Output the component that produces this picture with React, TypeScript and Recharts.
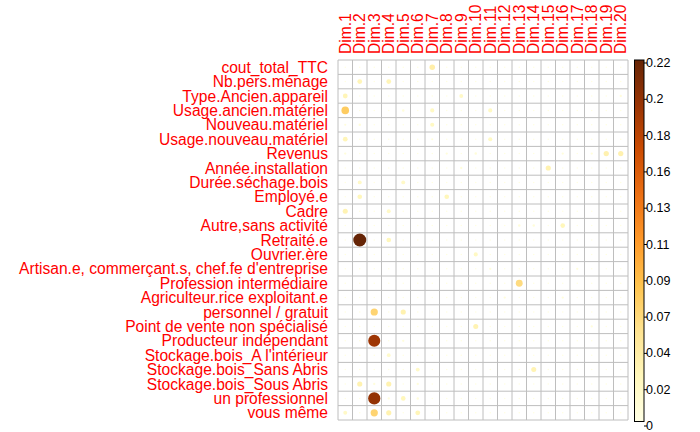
import { ReferenceLine, Scatter, ScatterChart, XAxis, YAxis } from "recharts";

const FONT = '"Liberation Sans", Arial, Helvetica, sans-serif';
const LABEL_RED = "#FF0000";
const GRID_GREY = "#BEBEBE";
// YlOrBr ramp, light to dark
const PALETTE = ["#FFFFE5", "#FFF7BC", "#FEE391", "#FEC44F", "#FE9929", "#EC7014", "#CC4C02", "#993404", "#662506"];
const MAX_VALUE = 0.22;
const MAX_RADIUS = 6.5;
const LABEL_SIZE = 15.6;

const COLS = [
  "Dim.1", "Dim.2", "Dim.3", "Dim.4", "Dim.5", "Dim.6", "Dim.7", "Dim.8", "Dim.9", "Dim.10",
  "Dim.11", "Dim.12", "Dim.13", "Dim.14", "Dim.15", "Dim.16", "Dim.17", "Dim.18", "Dim.19", "Dim.20"
];

const ROWS = [
  "cout_total_TTC",
  "Nb.pers.ménage",
  "Type.Ancien.appareil",
  "Usage.ancien.matériel",
  "Nouveau.matériel",
  "Usage.nouveau.matériel",
  "Revenus",
  "Année.installation",
  "Durée.séchage.bois",
  "Employé.e",
  "Cadre",
  "Autre,sans activité",
  "Retraité.e",
  "Ouvrier.ère",
  "Artisan.e, commerçant.s, chef.fe d'entreprise",
  "Profession intermédiaire",
  "Agriculteur.rice exploitant.e",
  "personnel / gratuit",
  "Point de vente non spécialisé",
  "Producteur indépendant",
  "Stockage.bois_A l'intérieur",
  "Stockage.bois_Sans Abris",
  "Stockage.bois_Sous Abris",
  "un professionnel",
  "vous même"
];

// one array per row, Dim.1 .. Dim.20
const coutTotal = [0.003, 0.003, 0.003, 0.003, 0.003, 0.003, 0.04, 0.003, 0.003, 0.003, 0.003, 0.003, 0.003, 0.003, 0.003, 0.003, 0.003, 0.003, 0.003, 0.003];
const nbPers = [0.003, 0.03, 0.003, 0.03, 0.003, 0.003, 0.003, 0.003, 0.003, 0.003, 0.003, 0.003, 0.003, 0.003, 0.003, 0.003, 0.003, 0.003, 0.003, 0.003];
const typeAncien = [0.03, 0.003, 0.003, 0.003, 0.003, 0.003, 0.003, 0.003, 0.02, 0.003, 0.003, 0.003, 0.003, 0.003, 0.003, 0.003, 0.003, 0.003, 0.003, 0.007];
const usageAncien = [0.075, 0.003, 0.003, 0.003, 0.008, 0.003, 0.022, 0.003, 0.003, 0.003, 0.022, 0.003, 0.003, 0.003, 0.003, 0.003, 0.003, 0.003, 0.003, 0.003];
const nouveauMat = [0.006, 0.008, 0.003, 0.003, 0.003, 0.003, 0.022, 0.003, 0.003, 0.003, 0.003, 0.003, 0.003, 0.003, 0.003, 0.003, 0.003, 0.003, 0.003, 0.003];
const usageNouveau = [0.03, 0.003, 0.003, 0.003, 0.003, 0.003, 0.006, 0.003, 0.003, 0.003, 0.022, 0.003, 0.003, 0.003, 0.003, 0.003, 0.003, 0.003, 0.003, 0.003];
const revenus = [0.007, 0.003, 0.003, 0.003, 0.003, 0.003, 0.003, 0.007, 0.003, 0.008, 0.003, 0.003, 0.003, 0.003, 0.003, 0.007, 0.003, 0.007, 0.036, 0.036];
const anneeInstall = [0.003, 0.003, 0.003, 0.003, 0.003, 0.003, 0.003, 0.003, 0.007, 0.003, 0.003, 0.003, 0.003, 0.003, 0.035, 0.003, 0.003, 0.003, 0.003, 0.003];
const dureeSechage = [0.003, 0.02, 0.003, 0.003, 0.02, 0.003, 0.003, 0.003, 0.003, 0.003, 0.003, 0.003, 0.003, 0.003, 0.003, 0.003, 0.003, 0.003, 0.003, 0.003];
const employe = [0.003, 0.028, 0.003, 0.003, 0.003, 0.003, 0.003, 0.028, 0.003, 0.003, 0.003, 0.003, 0.003, 0.003, 0.003, 0.003, 0.003, 0.003, 0.003, 0.003];
const cadre = [0.033, 0.003, 0.003, 0.02, 0.003, 0.003, 0.003, 0.003, 0.003, 0.003, 0.003, 0.003, 0.003, 0.003, 0.003, 0.003, 0.003, 0.003, 0.003, 0.003];
const autreSans = [0.003, 0.003, 0.003, 0.003, 0.003, 0.003, 0.003, 0.003, 0.003, 0.003, 0.003, 0.003, 0.008, 0.008, 0.003, 0.028, 0.003, 0.003, 0.003, 0.003];
const retraite = [0.003, 0.22, 0.003, 0.028, 0.003, 0.003, 0.003, 0.003, 0.003, 0.003, 0.003, 0.003, 0.003, 0.003, 0.003, 0.003, 0.003, 0.003, 0.003, 0.003];
const ouvrier = [0.003, 0.003, 0.003, 0.003, 0.003, 0.003, 0.003, 0.003, 0.003, 0.022, 0.003, 0.003, 0.003, 0.003, 0.003, 0.003, 0.003, 0.003, 0.003, 0.003];
const artisan = [0.003, 0.003, 0.003, 0.003, 0.003, 0.003, 0.003, 0.003, 0.003, 0.003, 0.007, 0.003, 0.003, 0.003, 0.003, 0.003, 0.007, 0.003, 0.003, 0.003];
const profInter = [0.003, 0.003, 0.003, 0.003, 0.003, 0.003, 0.003, 0.003, 0.003, 0.003, 0.003, 0.003, 0.062, 0.003, 0.003, 0.003, 0.003, 0.003, 0.003, 0.003];
const agriculteur = [0.003, 0.003, 0.003, 0.003, 0.003, 0.003, 0.003, 0.003, 0.003, 0.003, 0.003, 0.007, 0.003, 0.003, 0.003, 0.007, 0.003, 0.003, 0.003, 0.003];
const personnel = [0.003, 0.003, 0.068, 0.003, 0.035, 0.003, 0.003, 0.003, 0.003, 0.003, 0.003, 0.003, 0.003, 0.003, 0.003, 0.003, 0.003, 0.003, 0.003, 0.003];
const pointVente = [0.003, 0.003, 0.003, 0.003, 0.003, 0.003, 0.003, 0.003, 0.003, 0.033, 0.003, 0.003, 0.003, 0.003, 0.003, 0.003, 0.003, 0.007, 0.003, 0.003];
const producteur = [0.003, 0.003, 0.19, 0.003, 0.007, 0.003, 0.003, 0.003, 0.003, 0.003, 0.003, 0.003, 0.003, 0.003, 0.003, 0.003, 0.003, 0.003, 0.003, 0.003];
const stockInterieur = [0.003, 0.003, 0.003, 0.018, 0.003, 0.003, 0.003, 0.003, 0.003, 0.003, 0.003, 0.003, 0.003, 0.003, 0.003, 0.003, 0.003, 0.003, 0.003, 0.003];
const stockSansAbris = [0.003, 0.003, 0.003, 0.003, 0.003, 0.02, 0.003, 0.003, 0.003, 0.003, 0.003, 0.003, 0.003, 0.033, 0.003, 0.003, 0.003, 0.003, 0.003, 0.003];
const stockSousAbris = [0.003, 0.035, 0.007, 0.035, 0.003, 0.007, 0.003, 0.003, 0.003, 0.003, 0.003, 0.003, 0.003, 0.003, 0.003, 0.003, 0.003, 0.003, 0.003, 0.003];
const unPro = [0.003, 0.003, 0.195, 0.007, 0.028, 0.008, 0.003, 0.003, 0.003, 0.003, 0.003, 0.003, 0.003, 0.003, 0.003, 0.003, 0.003, 0.003, 0.003, 0.003];
const vousMeme = [0.02, 0.003, 0.068, 0.035, 0.003, 0.03, 0.003, 0.003, 0.003, 0.003, 0.003, 0.003, 0.003, 0.003, 0.003, 0.003, 0.003, 0.003, 0.003, 0.003];

const VALUES = [
  coutTotal, nbPers, typeAncien, usageAncien, nouveauMat, usageNouveau, revenus, anneeInstall,
  dureeSechage, employe, cadre, autreSans, retraite, ouvrier, artisan, profInter, agriculteur,
  personnel, pointVente, producteur, stockInterieur, stockSansAbris, stockSousAbris, unPro, vousMeme
];

const LEGEND_LABELS = ["0.22", "0.2", "0.18", "0.16", "0.13", "0.11", "0.09", "0.07", "0.04", "0.02", "0"];

function hexToRgb(hex: string) {
  const n = parseInt(hex.slice(1), 16);
  return [(n >> 16) & 255, (n >> 8) & 255, n & 255];
}

function colorFor(v: number) {
  const t = Math.max(0, Math.min(1, v / MAX_VALUE)) * (PALETTE.length - 1);
  const i = Math.min(Math.floor(t), PALETTE.length - 2);
  const f = t - i;
  const a = hexToRgb(PALETTE[i]);
  const b = hexToRgb(PALETTE[i + 1]);
  const c = a.map((ch, k) => Math.round(ch + (b[k] - ch) * f));
  return `rgb(${c[0]},${c[1]},${c[2]})`;
}

const points = VALUES.flatMap((row, i) =>
  row.map((v, j) => ({ x: j + 0.5, y: i + 0.5, z: v }))
);

const xTicks = COLS.map((_, j) => j + 0.5);
const yTicks = ROWS.map((_, i) => i + 0.5);
const xLines = [...COLS.map((_, j) => j), COLS.length];
const yLines = [...ROWS.map((_, i) => i), ROWS.length];

// circle area proportional to the value, like corrplot's "circle" method
function Bubble(props: any) {
  const { cx, cy, payload } = props;
  if (cx == null || cy == null) return null;
  const v = payload.z;
  const r = MAX_RADIUS * Math.sqrt(Math.max(0, v) / MAX_VALUE);
  return <circle cx={cx} cy={cy} r={r} fill={colorFor(v)} stroke="none" />;
}

function ColTick(props: any) {
  const { x, y, payload } = props;
  const label = COLS[Math.floor(payload.value)];
  return (
    <text
      x={x}
      y={y}
      transform={`rotate(-90, ${x}, ${y})`}
      textAnchor="start"
      dominantBaseline="central"
      fill={LABEL_RED}
      fontSize={LABEL_SIZE}
      fontFamily={FONT}
    >
      {label}
    </text>
  );
}

function RowTick(props: any) {
  const { x, y, payload } = props;
  const label = ROWS[Math.floor(payload.value)];
  return (
    <text x={x} y={y} textAnchor="end" dominantBaseline="central" fill={LABEL_RED} fontSize={LABEL_SIZE} fontFamily={FONT}>
      {label}
    </text>
  );
}

function ColorLegend() {
  const top = 60;
  const bottom = 421.5;
  const labelTop = 63;
  const step = 36.3;
  return (
    <svg width={700} height={432} style={{ position: "absolute", left: 0, top: 0, pointerEvents: "none" }}>
      <defs>
        <linearGradient id="ylorbr-bar" x1="0" y1="1" x2="0" y2="0">
          {PALETTE.map((c, k) => (
            <stop key={c} offset={`${(k / (PALETTE.length - 1)) * 100}%`} stopColor={c} />
          ))}
        </linearGradient>
      </defs>
      <rect x={634.5} y={top} width={9.5} height={bottom - top} fill="url(#ylorbr-bar)" stroke="#000" strokeWidth={1} />
      {LEGEND_LABELS.map((lab, k) => (
        <g key={lab}>
          <line x1={644} x2={647} y1={labelTop + k * step} y2={labelTop + k * step} stroke="#000" />
          <text x={646} y={labelTop + k * step} dominantBaseline="central" fontSize={12.5} fontFamily={FONT} fill="#000">
            {lab}
          </text>
        </g>
      ))}
    </svg>
  );
}

export default function App() {
  return (
    <div style={{ position: "absolute", left: 0, top: 0, width: 700, height: 432, background: "#fff" }}>
      <ScatterChart width={700} height={432} margin={{ top: 0, right: 72, bottom: 12, left: 0 }}>
        <XAxis
          type="number"
          dataKey="x"
          orientation="top"
          domain={[0, COLS.length]}
          ticks={xTicks}
          interval={0}
          height={60}
          tickSize={0}
          tickMargin={6}
          axisLine={false}
          tick={<ColTick />}
        />
        <YAxis
          type="number"
          dataKey="y"
          domain={[0, ROWS.length]}
          reversed
          ticks={yTicks}
          interval={0}
          width={338}
          tickSize={0}
          tickMargin={10}
          axisLine={false}
          tick={<RowTick />}
        />
        {xLines.map((v) => (
          <ReferenceLine key={`vx${v}`} x={v} stroke={GRID_GREY} strokeWidth={1} ifOverflow="extendDomain" />
        ))}
        {yLines.map((v) => (
          <ReferenceLine key={`hy${v}`} y={v} stroke={GRID_GREY} strokeWidth={1} ifOverflow="extendDomain" />
        ))}
        <Scatter data={points} isAnimationActive={false} shape={<Bubble />} />
      </ScatterChart>
      <ColorLegend />
    </div>
  );
}
